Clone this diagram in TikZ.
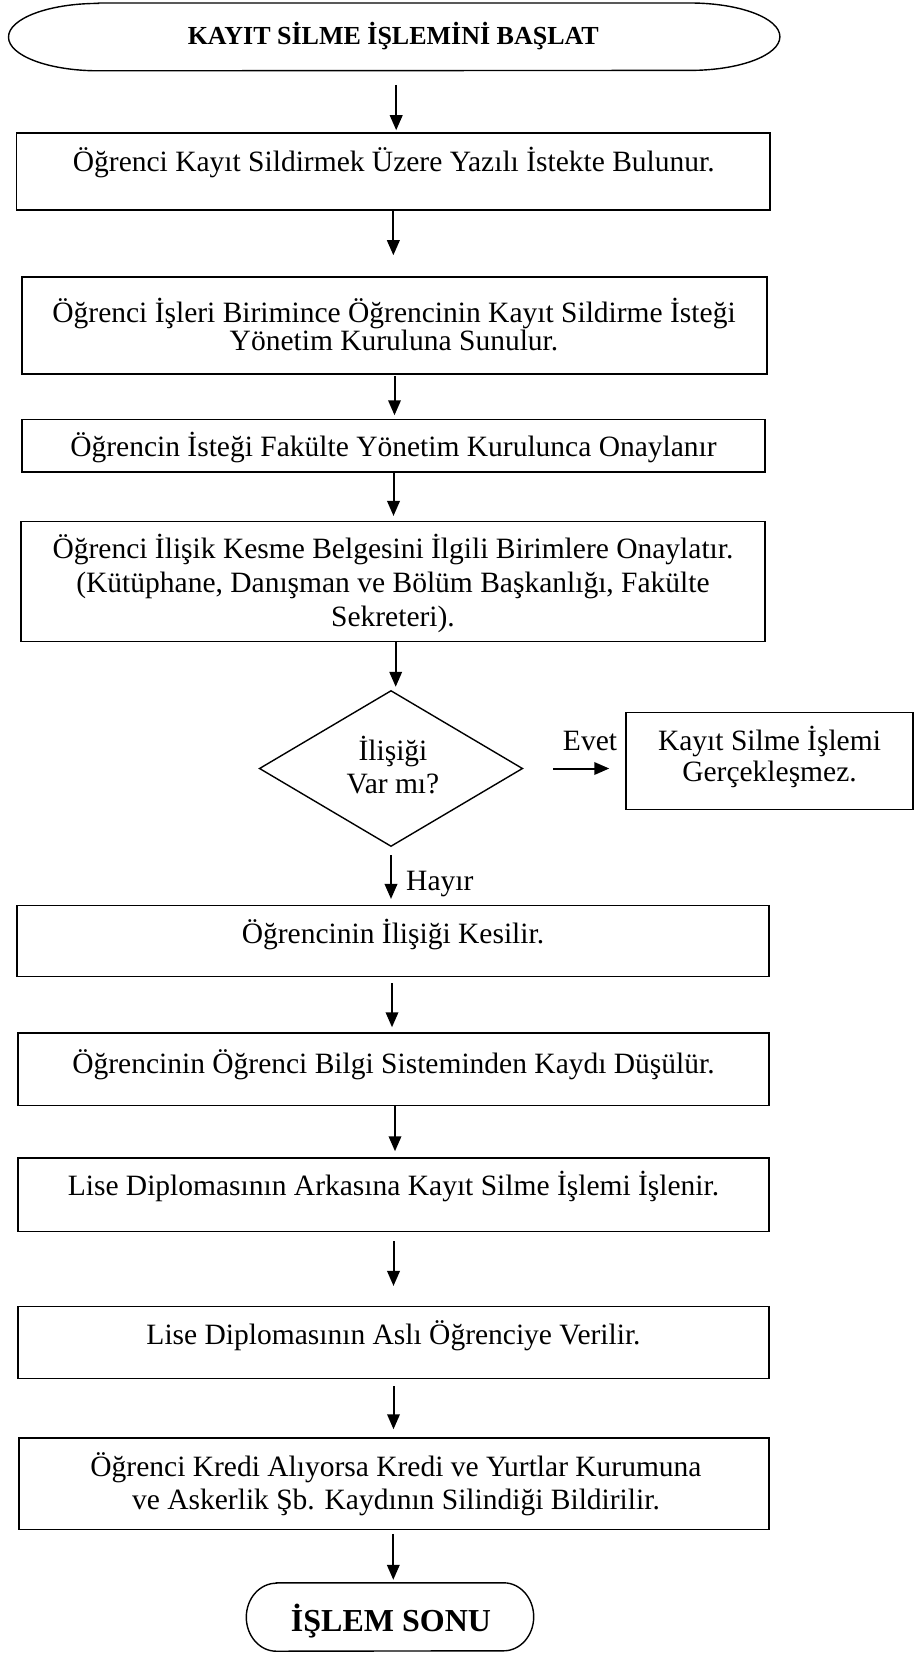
\documentclass[tikz,border=0pt]{standalone}
\usepackage{fontspec}
\setmainfont{Liberation Serif}
\usetikzlibrary{arrows.meta,shapes.geometric}
\begin{document}
\begin{tikzpicture}[x=1pt,y=-1pt,
  box/.style={draw, line width=1.5pt, rectangle, inner sep=0pt},
  ghost/.style={draw=none, rectangle, inner sep=0pt},
  txt/.style={font=\fontsize{29.5}{33}\selectfont, anchor=base, inner sep=0pt},
  btxt/.style={font=\fontsize{26}{30}\selectfont\bfseries, anchor=base, inner sep=0pt},
  arr/.style={line width=2pt, -{Triangle[length=15pt,width=12.5pt]}},
  outline/.style={line width=1.4pt},
]
\useasboundingbox (0,0) rectangle (915,1653);

% start terminator
\node[ghost, minimum width=771pt, minimum height=67.4pt] (start) at (394.2,36.9) {};
\draw[outline] ([xshift=90pt]start.north west) -- ([xshift=-90pt]start.north east)
  arc[start angle=-90, end angle=90, x radius=90, y radius=33.7]
  -- ([xshift=90pt]start.south west)
  arc[start angle=90, end angle=270, x radius=90, y radius=33.7] -- cycle;
\node[btxt] (tstart) at (393.3,45) {KAYIT SİLME İŞLEMİNİ BAŞLAT};

% boxes
\node[box, minimum width=753.3pt, minimum height=77pt] (b1) at (393.35,171.5) {};
\node[txt] (t1) at (393.8,171.7) {Öğrenci Kayıt Sildirmek Üzere Yazılı İstekte Bulunur.};

\node[box, minimum width=745pt, minimum height=97pt] (b2) at (394.5,325.5) {};
\node[txt] (t2a) at (394,322) {Öğrenci İşleri Birimince Öğrencinin Kayıt Sildirme İsteği};
\node[txt] (t2b) at (394,350) {Yönetim Kuruluna Sunulur.};

\node[box, minimum width=743pt, minimum height=52.5pt] (b3) at (393.5,445.75) {};
\node[txt] (t3) at (393.5,456) {Öğrencin İsteği Fakülte Yönetim Kurulunca Onaylanır};

\node[box, minimum width=744pt, minimum height=120pt] (b4) at (393,581.7) {};
\node[txt] (t4a) at (393,558) {Öğrenci İlişik Kesme Belgesini İlgili Birimlere Onaylatır.};
\node[txt] (t4b) at (393,592.5) {(Kütüphane, Danışman ve Bölüm Başkanlığı, Fakülte};
\node[txt] (t4c) at (393,626) {Sekreteri).};

% decision
\node[diamond, draw, line width=1.4pt, inner sep=0pt, minimum width=263.4pt, minimum height=156pt] (d) at (391,768.5) {};
\node[txt] (td1) at (393,760.7) {İlişiği};
\node[txt] (td2) at (393,793) {Var mı?};

\node[box, minimum width=287pt, minimum height=96.6pt] (no) at (769.5,761) {};
\node[txt] (tno1) at (769.5,750.7) {Kayıt Silme İşlemi};
\node[txt] (tno2) at (769.5,781.7) {Gerçekleşmez.};

\node[box, minimum width=752pt, minimum height=71pt] (b5) at (393,941.2) {};
\node[txt] (t5) at (393,943) {Öğrencinin İlişiği Kesilir.};

\node[box, minimum width=751pt, minimum height=72.7pt] (b6) at (393.5,1069.35) {};
\node[txt] (t6) at (393.5,1073) {Öğrencinin Öğrenci Bilgi Sisteminden Kaydı Düşülür.};

\node[box, minimum width=751pt, minimum height=73.7pt] (b7) at (393.5,1194.85) {};
\node[txt] (t7) at (393.5,1195.5) {Lise Diplomasının Arkasına Kayıt Silme İşlemi İşlenir.};

\node[box, minimum width=751pt, minimum height=71.6pt] (b8) at (393.5,1342.5) {};
\node[txt] (t8) at (393.5,1344) {Lise Diplomasının Aslı Öğrenciye Verilir.};

\node[box, minimum width=750pt, minimum height=91.5pt] (b9) at (394,1483.75) {};
\node[txt] (t9a) at (396,1476) {Öğrenci Kredi Alıyorsa Kredi ve Yurtlar Kurumuna};
\node[txt] (t9b) at (396,1509) {ve Askerlik Şb. Kaydının Silindiği Bildirilir.};

% end terminator
\node[ghost, minimum width=287pt, minimum height=68pt] (end) at (390,1617) {};
\draw[outline] ([xshift=30pt]end.north west) -- ([xshift=-30pt]end.north east)
  arc[start angle=-90, end angle=90, x radius=30, y radius=34]
  -- ([xshift=30pt]end.south west)
  arc[start angle=90, end angle=270, x radius=30, y radius=34] -- cycle;
\node[txt, font=\fontsize{32}{36}\selectfont\bfseries] (tend) at (391,1631.7) {İŞLEM SONU};

% connectors
\draw[arr, shorten <=14pt, shorten >=2pt] ([xshift=2pt]start.south) -- ([xshift=2pt]start.south |- b1.north);
\draw[arr, shorten >=21pt] (b1.south) -- (b1.south |- b2.north);
\draw[arr, shorten <=1pt, shorten >=3.5pt] (b2.south) -- (b2.south |- b3.north);
\draw[arr, shorten >=5pt] (b3.south) -- (b3.south |- b4.north);
\draw[arr, shorten >=3pt] ([xshift=2.7pt]b4.south) -- ([xshift=2.7pt]b4.south |- d.north);
\draw[arr, shorten <=30pt, shorten >=16pt] (d.east) -- (d.east -| no.west);
\node[txt] (tevet) at (590,750) {Evet};
\draw[arr, shorten <=8pt, shorten >=6pt] (d.south) -- (d.south |- b5.north);
\node[txt, anchor=base west] (thayir) at (406,890) {Hayır};
\draw[arr, shorten <=6pt, shorten >=5pt] ([xshift=-1pt]b5.south) -- ([xshift=-1pt]b5.south |- b6.north);
\draw[arr, shorten >=6pt] ([xshift=1.5pt]b6.south) -- ([xshift=1.5pt]b6.south |- b7.north);
\draw[arr, shorten <=9pt, shorten >=20pt] (b7.south) -- (b7.south |- b8.north);
\draw[arr, shorten <=7pt, shorten >=8pt] (b8.south) -- (b8.south |- b9.north);
\draw[arr, shorten <=3.5pt, shorten >=3pt] ([xshift=-0.7pt]b9.south) -- ([xshift=-0.7pt]b9.south |- end.north);
\end{tikzpicture}
\end{document}
